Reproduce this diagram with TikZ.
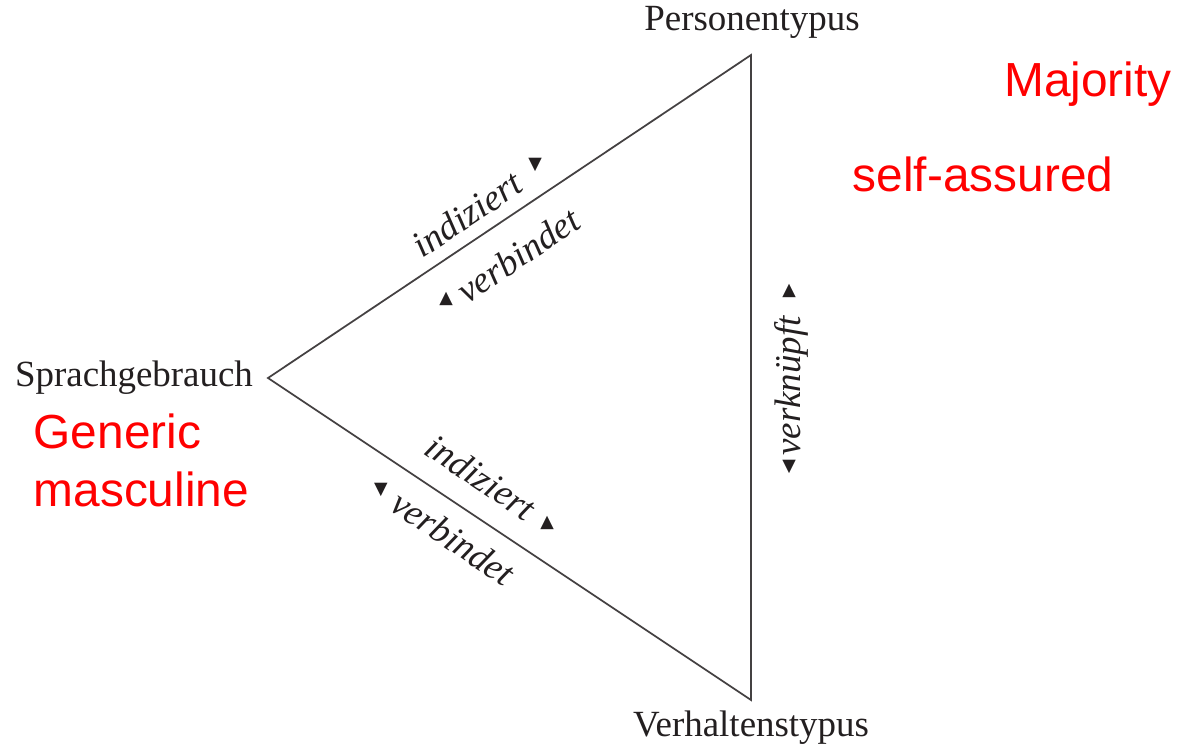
\documentclass[tikz,border=0pt]{standalone}
\usepackage{fontspec}
\setmainfont{Liberation Serif}
\newfontfamily\redfont{Liberation Sans}
\newfontfamily\symfont{DejaVu Sans}
\usepackage{tikz}

\definecolor{ink}{HTML}{231F20}
\definecolor{note}{HTML}{FF0000}

\tikzset{
  ecke/.style={font=\fontsize{10.5}{12}\selectfont, text=ink, inner sep=0pt},
  kante/.style={font=\fontsize{10.5}{12}\selectfont\itshape, text=ink, inner sep=0pt},
  pfeil/.style={font=\symfont\fontsize{5}{6}\selectfont, text=ink, inner sep=0pt},
  anmerkung/.style={font=\redfont\fontsize{13.6}{16.4}\selectfont, text=note, inner sep=0pt, align=left}
}

\begin{document}
\begin{tikzpicture}[x=0.01cm, y=-0.01cm]
  \useasboundingbox (0,0) rectangle (1177,749);

  % corners of the triangle
  \coordinate (S) at (268,378);
  \coordinate (P) at (751,55);
  \coordinate (V) at (751,700);
  \draw[ink!85, line width=0.5pt, line join=miter] (S) -- (P) -- (V) -- cycle;

  \node[ecke] (pers) at (752,22) {Personentypus};
  \node[ecke] (spr) at (134,378) {Sprachgebrauch};
  \node[ecke] (verh) at (751,728) {Verhaltenstypus};

  % upper edge
  \node[kante, rotate=33.8] (ind1) at (467,214) {indiziert};
  \node[pfeil] (ind1p) at (535,165) {▼};
  \node[kante, rotate=33.8] (ver1) at (518,255) {verbindet};
  \node[pfeil] (ver1p) at (446,299) {▲};

  % lower edge
  \node[kante, rotate=-33.8] (ind2) at (481,477) {indiziert};
  \node[pfeil] (ind2p) at (547,523) {▲};
  \node[kante, rotate=-33.8] (ver2) at (453,538) {verbindet};
  \node[pfeil] (ver2p) at (381,490) {▼};

  % right edge
  \node[kante, rotate=90] (verk) at (791,386) {verknüpft};
  \node[pfeil] (verkp1) at (789,291) {▲};
  \node[pfeil] (verkp2) at (789,467) {▼};

  % notes
  \node[anmerkung] (maj) at (1088,84) {Majority};
  \node[anmerkung] (self) at (983,174) {self-assured};
  \node[anmerkung, anchor=north west] (gen) at (33,413) {Generic\\masculine};
\end{tikzpicture}
\end{document}
